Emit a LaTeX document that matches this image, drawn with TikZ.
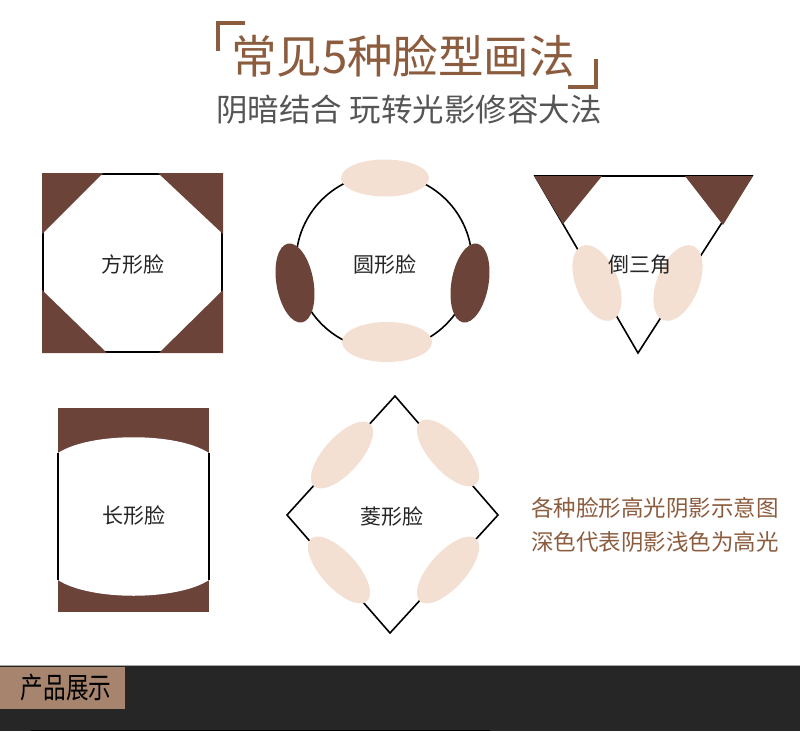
\documentclass[tikz,border=0pt]{standalone}
\usepackage{fontspec}
\setmainfont{Noto Sans CJK SC}
\usetikzlibrary{shapes.geometric}
\definecolor{titlec}{RGB}{140,92,62}
\definecolor{subc}{RGB}{85,85,85}
\definecolor{darkc}{RGB}{107,67,57}
\definecolor{lightc}{RGB}{244,224,210}
\definecolor{barc}{RGB}{38,38,38}
\definecolor{tagc}{RGB}{166,132,110}
\tikzset{
  faceline/.style={draw=black, line width=1.6pt},
  darkfill/.style={fill=darkc},
  hlblob/.style={ellipse, fill=lightc, inner sep=0pt},
  shblob/.style={ellipse, fill=darkc, inner sep=0pt},
  facelabel/.style={font=\fontsize{21}{23}\selectfont, text=black!85},
  bracket/.style={draw=titlec, line width=3.5pt}
}
\begin{document}
\begin{tikzpicture}[x=1pt,y=-1pt]
\useasboundingbox (0,0) rectangle (800,731);
\fill[white] (0,0) rectangle (800,731);
% title
\draw[bracket] (245,23) -- (218,23) -- (218,51);
\draw[bracket] (596,59) -- (596,87) -- (568,87);
\node[font=\fontsize{45.5}{48}\selectfont, text=titlec] (title) at (403,56) {常见5种脸型画法};
\node[font=\fontsize{31.5}{34}\selectfont, text=subc] (sub) at (409,110) {阴暗结合\ 玩转光影修容大法};
% square face
\draw[faceline] (43,174) rectangle (222,352);
\fill[darkfill] (42,173) -- (103,173) -- (42,234) -- cycle;
\fill[darkfill] (158,173) -- (223,173) -- (223,234) -- cycle;
\fill[darkfill] (42,290) -- (42,353) -- (107,353) -- cycle;
\fill[darkfill] (159,353) -- (223,353) -- (223,290) -- cycle;
\node[facelabel] (sqlabel) at (133,265) {方形脸};
% round face
\draw[faceline] (384,262) circle (88);
\node[hlblob, minimum width=88pt, minimum height=37pt] (rtop) at (385,178) {};
\node[hlblob, minimum width=90pt, minimum height=40pt] (rbot) at (387,342) {};
\node[shblob, minimum width=37pt, minimum height=80pt, rotate=10] (rl) at (295,283) {};
\node[shblob, minimum width=37pt, minimum height=80pt, rotate=-10] (rr) at (470,283) {};
\node[facelabel] (rlabel) at (385,265) {圆形脸};
% inverted triangle
\draw[faceline, line join=miter] (535,176) -- (752,176) -- (638,353) -- cycle;
\fill[darkfill] (534,176) -- (602,176) -- (563,224) -- cycle;
\fill[darkfill] (685,176) -- (753,176) -- (723,225) -- cycle;
\node[hlblob, minimum width=42pt, minimum height=80pt, rotate=22] (tl) at (597,283) {};
\node[hlblob, minimum width=42pt, minimum height=80pt, rotate=-22] (tr) at (678,283) {};
\node[facelabel] (tlabel) at (640,265) {倒三角};
% long face
\fill[darkfill] (58,408) rectangle (209,612);
\fill[white] (58,453) .. controls (90,432) and (177,432) .. (209,453) -- (209,580) .. controls (177,601) and (90,601) .. (58,580) -- cycle;
\draw[faceline] (58,453) -- (58,580);
\draw[faceline] (209,453) -- (209,580);
\node[facelabel] (llabel) at (134,516) {长形脸};
% diamond face
\draw[faceline] (395,396) -- (498,515) -- (390,633) -- (287,515) -- cycle;
\node[hlblob, minimum width=36pt, minimum height=84pt, rotate=-42] (dtl) at (342,455) {};
\node[hlblob, minimum width=36pt, minimum height=84pt, rotate=42] (dtr) at (448,453) {};
\node[hlblob, minimum width=36pt, minimum height=84pt, rotate=42] (dbl) at (339,570) {};
\node[hlblob, minimum width=36pt, minimum height=84pt, rotate=-42] (dbr) at (448,570) {};
\node[facelabel] (dlabel) at (392,517) {菱形脸};
% note
\node[font=\fontsize{22.5}{34}\selectfont, text=titlec, align=center] (note) at (655,525) {各种脸形高光阴影示意图\\深色代表阴影浅色为高光};
% bottom bar
\fill[barc] (0,665) rectangle (800,731);
\draw[gray!70, line width=0.6pt] (0,665) -- (800,665);
\fill[tagc] (0,667) rectangle (125,709);
\draw[black, line width=1pt] (31,730.5) -- (490,730.5);
\node[font=\fontsize{29}{30}\selectfont, text=black] (tag) at (66,688) {\scalebox{0.78}[1]{产品展示}};
\end{tikzpicture}
\end{document}
